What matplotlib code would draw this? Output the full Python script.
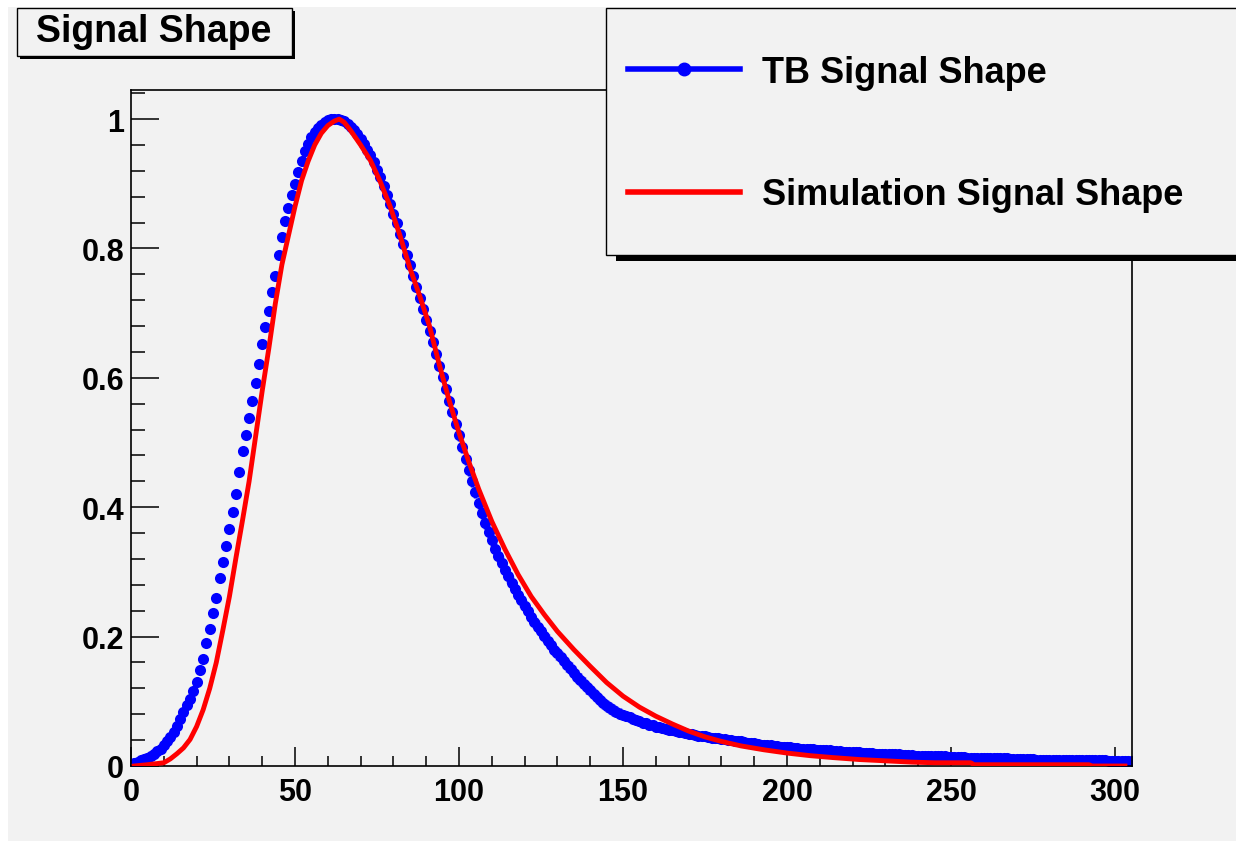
import matplotlib
matplotlib.use("Agg")
import matplotlib.pyplot as plt
from matplotlib.patches import Rectangle
from matplotlib.lines import Line2D
from matplotlib.ticker import MultipleLocator

plt.rcParams['font.family'] = ['Liberation Sans', 'DejaVu Sans']
plt.rcParams['font.weight'] = 'bold'

# DATA
title = "Signal Shape"
tb_label = "TB Signal Shape"
sim_label = "Simulation Signal Shape"

# test beam signal, one sample per time bin
tb_x = list(range(0, 306))
tb_y = [
    0.000, 0.004, 0.006, 0.009, 0.011, 0.013, 0.015, 0.019, 0.023, 0.027,
    0.032, 0.039, 0.045, 0.053, 0.062, 0.072, 0.083, 0.094, 0.104, 0.116,
    0.130, 0.148, 0.166, 0.190, 0.212, 0.236, 0.259, 0.290, 0.316, 0.340,
    0.367, 0.392, 0.420, 0.455, 0.487, 0.512, 0.538, 0.565, 0.592, 0.622,
    0.652, 0.679, 0.704, 0.733, 0.758, 0.790, 0.818, 0.843, 0.863, 0.882,
    0.900, 0.918, 0.935, 0.950, 0.962, 0.972, 0.980, 0.986, 0.991, 0.995,
    0.998, 1.000, 1.000, 1.000, 0.999, 0.997, 0.993, 0.988, 0.983, 0.977,
    0.970, 0.962, 0.953, 0.944, 0.933, 0.922, 0.910, 0.897, 0.883, 0.869,
    0.854, 0.839, 0.823, 0.807, 0.790, 0.774, 0.757, 0.740, 0.723, 0.706,
    0.689, 0.672, 0.655, 0.637, 0.619, 0.601, 0.583, 0.565, 0.547, 0.529,
    0.511, 0.493, 0.475, 0.457, 0.440, 0.423, 0.407, 0.391, 0.376, 0.362,
    0.349, 0.336, 0.325, 0.314, 0.303, 0.293, 0.283, 0.274, 0.265, 0.256,
    0.247, 0.239, 0.231, 0.223, 0.215, 0.208, 0.201, 0.194, 0.187, 0.180,
    0.174, 0.168, 0.162, 0.156, 0.150, 0.144, 0.138, 0.133, 0.127, 0.122,
    0.117, 0.112, 0.107, 0.102, 0.097, 0.093, 0.090, 0.087, 0.084, 0.081,
    0.079, 0.077, 0.075, 0.073, 0.071, 0.069, 0.067, 0.066, 0.064, 0.063,
    0.061, 0.060, 0.058, 0.057, 0.056, 0.055, 0.054, 0.053, 0.052, 0.051,
    0.050, 0.049, 0.048, 0.047, 0.046, 0.046, 0.045, 0.044, 0.043, 0.043,
    0.042, 0.041, 0.040, 0.040, 0.039, 0.038, 0.038, 0.037, 0.036, 0.036,
    0.035, 0.034, 0.033, 0.033, 0.032, 0.032, 0.031, 0.031, 0.030, 0.030,
    0.029, 0.029, 0.028, 0.028, 0.027, 0.027, 0.026, 0.026, 0.026, 0.025,
    0.025, 0.024, 0.024, 0.024, 0.023, 0.023, 0.023, 0.022, 0.022, 0.022,
    0.021, 0.021, 0.021, 0.020, 0.020, 0.020, 0.020, 0.019, 0.019, 0.019,
    0.019, 0.018, 0.018, 0.018, 0.018, 0.017, 0.017, 0.017, 0.017, 0.016,
    0.016, 0.016, 0.016, 0.016, 0.015, 0.015, 0.015, 0.015, 0.015, 0.014,
    0.014, 0.014, 0.014, 0.014, 0.014, 0.013, 0.013, 0.013, 0.013, 0.013,
    0.013, 0.012, 0.012, 0.012, 0.012, 0.012, 0.012, 0.012, 0.011, 0.011,
    0.011, 0.011, 0.011, 0.011, 0.011, 0.011, 0.010, 0.010, 0.010, 0.010,
    0.010, 0.010, 0.010, 0.010, 0.010, 0.010, 0.009, 0.009, 0.009, 0.009,
    0.009, 0.009, 0.009, 0.009, 0.009, 0.009, 0.009, 0.009, 0.008, 0.008,
    0.008, 0.008, 0.008, 0.008, 0.008, 0.008,
]
# error bar size of the TB points, one value per block of 10 samples
tb_err_block = [0.002, 0.002, 0.003, 0.003, 0.003,
                0.004, 0.004, 0.005, 0.006, 0.007,
                0.009, 0.010, 0.010, 0.010, 0.009, 0.007,
                0.004, 0.004, 0.004, 0.004, 0.004, 0.004, 0.004, 0.004,
                0.004, 0.004, 0.004, 0.004, 0.004, 0.004, 0.004]
tb_err = [tb_err_block[i // 10] for i in tb_x]

# simulated signal
sim_x = [1, 5, 10, 12, 14, 16, 18, 20, 22, 24, 26, 28, 30, 32, 34, 36, 38, 40,
         42, 44, 46, 48, 50, 52, 54, 56, 58, 60, 62, 63.5, 65, 67, 70, 73, 76,
         79, 82, 85, 88, 91, 94, 97, 100, 103, 106, 110, 114, 118, 122, 126,
         130, 135, 140, 145, 150, 155, 160, 165, 170, 175, 180, 186, 193, 200,
         207, 214, 222, 230, 238, 245, 256, 257, 292, 293, 303]
sim_y = [0.0, 0.002, 0.005, 0.011, 0.019, 0.028, 0.041, 0.061, 0.087, 0.12,
         0.16, 0.21, 0.262, 0.322, 0.38, 0.44, 0.51, 0.58, 0.645, 0.715, 0.775,
         0.82, 0.865, 0.905, 0.935, 0.96, 0.978, 0.99, 0.997, 1.0, 0.995,
         0.982, 0.96, 0.936, 0.903, 0.865, 0.82, 0.77, 0.727, 0.68, 0.62,
         0.565, 0.515, 0.47, 0.428, 0.378, 0.335, 0.296, 0.262, 0.234, 0.208,
         0.18, 0.154, 0.129, 0.108, 0.091, 0.077, 0.065, 0.054, 0.045, 0.038,
         0.031, 0.025, 0.02, 0.016, 0.013, 0.01, 0.008, 0.006, 0.005, 0.005,
         0.002, 0.002, 0.0, 0.0]

W, H = 1236, 845
GRAY = '#f2f2f2'

fig = plt.figure(figsize=(W / 100, H / 100), dpi=100, facecolor='white')
# grey canvas (white margin at top/left like the original export)
fig.add_artist(Rectangle((8 / W, 3 / H), 1, 1 - 11 / H, transform=fig.transFigure,
                         facecolor=GRAY, edgecolor='none', zorder=-10))

ax = fig.add_axes([131 / W, 1 - 767 / H, (1131.5 - 131) / W, (767 - 91) / H])
ax.set_facecolor(GRAY)
ax.errorbar(tb_x, tb_y, yerr=tb_err, linestyle='none', marker='o', markersize=8,
            markeredgewidth=0, color='#0000ff', ecolor='#0000ff',
            elinewidth=2.5, capsize=0, zorder=2)
ax.plot(sim_x, sim_y, color='#ff0000', linewidth=3.5, zorder=3)

ax.set_xlim(0, 305)
ax.set_ylim(0, 1.045)
ax.xaxis.set_major_locator(MultipleLocator(50))
ax.xaxis.set_minor_locator(MultipleLocator(10))
ax.yaxis.set_major_locator(MultipleLocator(0.2))
ax.yaxis.set_minor_locator(MultipleLocator(0.04))
ax.set_xticks([0, 50, 100, 150, 200, 250, 300])
ax.set_xticklabels(['0', '50', '100', '150', '200', '250', '300'])
ax.set_yticks([0, 0.2, 0.4, 0.6, 0.8, 1.0])
ax.set_yticklabels(['0', '0.2', '0.4', '0.6', '0.8', '1'])
ax.tick_params(axis='both', which='both', direction='in', width=1.1,
               color='black', labelsize=22)
ax.tick_params(axis='x', which='major', length=14, pad=8)
ax.tick_params(axis='x', which='minor', length=7)
ax.tick_params(axis='y', which='major', length=20, pad=5)
ax.tick_params(axis='y', which='minor', length=10)
for lab in ax.get_xticklabels() + ax.get_yticklabels():
    lab.set_fontweight('bold')
for sp in ax.spines.values():
    sp.set_linewidth(1.2)

# overlay in pixel coordinates for the title box and legend frame
ov = fig.add_axes([0, 0, 1, 1], zorder=5)
ov.set_xlim(0, W)
ov.set_ylim(H, 0)
ov.axis('off')
ov.patch.set_alpha(0)

# title box with shadow
ov.add_patch(Rectangle((20, 12), 275, 48, facecolor='black', edgecolor='none'))
ov.add_patch(Rectangle((17, 9), 275, 48, facecolor=GRAY, edgecolor='black', linewidth=1))
ov.text(36, 42, title, fontsize=27, fontweight='bold', va='baseline', ha='left')

# legend frame with shadow
ov.add_patch(Rectangle((616, 16), 700, 246, facecolor='black', edgecolor='none'))
ov.add_patch(Rectangle((606, 9), 700, 247, facecolor=GRAY, edgecolor='black', linewidth=1))

handles = [
    Line2D([], [], color='#0000ff', linewidth=4, marker='o', markersize=9),
    Line2D([], [], color='#ff0000', linewidth=4),
]
leg = ov.legend(handles, [tb_label, sim_label], loc='upper left',
                bbox_to_anchor=(628 / W, 1 - 56 / H), frameon=False,
                prop={'size': 26, 'weight': 'bold'}, borderpad=0,
                borderaxespad=0, handlelength=3.1, handletextpad=0.6,
                labelspacing=2.42)

fig.savefig('out.png', dpi=100, facecolor='white')
